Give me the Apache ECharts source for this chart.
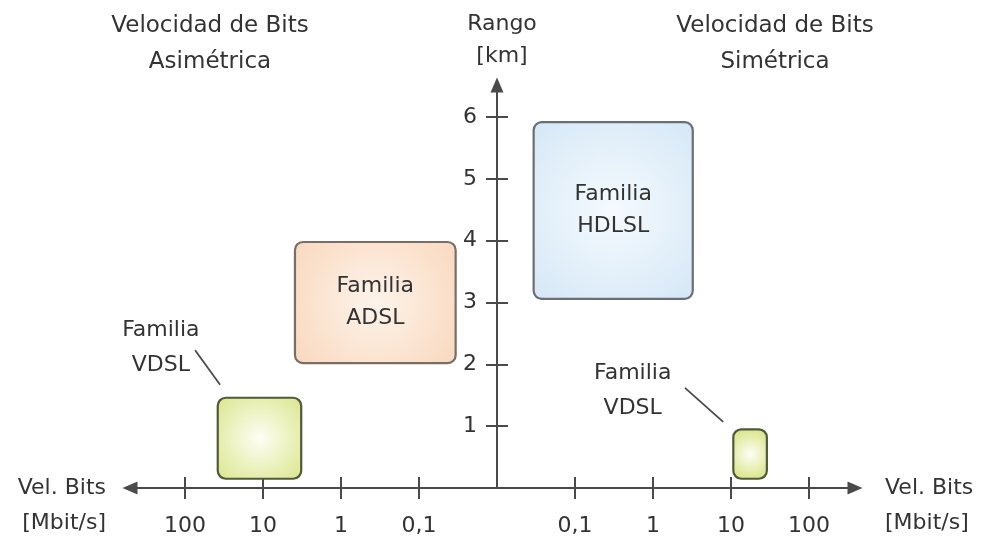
<!DOCTYPE html>
<html>
<head>
<meta charset="utf-8">
<script src="https://cdn.jsdelivr.net/npm/echarts@6/dist/echarts.min.js"></script>
<style>
  html, body { margin: 0; padding: 0; background: #fff; }
  #chart { width: 985px; height: 538px; }
</style>
</head>
<body>
<div id="chart"></div>
<script>
// decade labels, counted outward from the centre of the x axis
var tickLabels = ['0,1', '1', '10', '100'];
var tickPos = [-4, -3, -2, -1, 1, 2, 3, 4];
var rangeTicks = [1, 2, 3, 4, 5, 6];

// family boxes (x in decades from centre, y in km)
var families = ['ADSL', 'HDLSL', 'VDSL', 'VDSL'];
var xFrom = [-2.59, 0.47, -3.58, 3.03];
var xTo = [-0.53, 2.51, -2.51, 3.46];
var yFrom = [2.02, 3.06, 0.15, 0.15];
var yTo = [3.98, 5.92, 1.46, 0.95];
var labelInside = [true, true, false, false];

// callouts for the small VDSL boxes
var calloutText = ['Familia\nVDSL', 'Familia\nVDSL'];
var calloutX = [-4.31, 1.74];
var calloutY = [2.27, 1.57];
var leaderX0 = [-3.87, 2.41];
var leaderY0 = [2.23, 1.62];
var leaderX1 = [-3.55, 2.90];
var leaderY1 = [1.67, 1.07];

var FONT = '"DejaVu Sans", Verdana, sans-serif';
var TXT = '#333333';
var AXIS = '#4a4a4a';

var familyStyle = {
    ADSL:  { inner: '#fdf3ea', outer: '#f9d9bf', border: '#7a6d66' },
    HDLSL: { inner: '#f5fafe', outer: '#d2e6f5', border: '#6b6e72' },
    VDSL:  { inner: '#fdfef4', outer: '#d6e27e', border: '#4f5a3a' }
};

var boxData = families.map(function (f, i) {
    return [xFrom[i], xTo[i], yFrom[i], yTo[i], i];
});
var calloutData = calloutText.map(function (t, i) {
    return [calloutX[i], calloutY[i], leaderX0[i], leaderY0[i], leaderX1[i], leaderY1[i], i];
});

var chart = echarts.init(document.getElementById('chart'), null, { renderer: 'canvas' });

var xMin = -4.705, xMax = 4.59;
var gridLeft = 130, gridRight = 130;
// pixel distance from each grid edge to x = 0, so the y axis sits in the middle
var plotW = 985 - gridLeft - gridRight;
var zeroFromLeft = plotW * (0 - xMin) / (xMax - xMin);
var zeroFromRight = plotW - zeroFromLeft;

function tickLabel(v) {
    var k = Math.round(Math.abs(v));
    return k ? tickLabels[k - 1] : '';
}

// leading empty line drops the two-line name so its first line sits level with the axis
var xName = '\nVel. Bits\n[Mbit/s]';
var nameStyle = { fontFamily: FONT, fontSize: 22, color: TXT, lineHeight: 35 };

var option = {
    animation: false,
    backgroundColor: '#fff',
    grid: { left: gridLeft, right: gridRight, top: 85, bottom: 50, containLabel: false, outerBoundsMode: 'none' },
    graphic: [
        { type: 'text', x: 210, y: 8, style: { text: 'Velocidad de Bits\nAsimétrica', font: '23px ' + FONT, fill: TXT, align: 'center', lineHeight: 36 } },
        { type: 'text', x: 775, y: 8, style: { text: 'Velocidad de Bits\nSimétrica', font: '23px ' + FONT, fill: TXT, align: 'center', lineHeight: 36 } }
    ],
    xAxis: [
        {
            type: 'value', min: xMin, max: xMax, position: 'bottom',
            splitLine: { show: false },
            axisLine: { onZero: false, symbol: ['triangle', 'triangle'], symbolSize: [13, 15],
                lineStyle: { color: AXIS, width: 2 } },
            axisTick: { show: true, customValues: tickPos, length: 11, lineStyle: { color: AXIS, width: 2 } },
            axisLabel: { customValues: tickPos, formatter: tickLabel, margin: 27,
                fontFamily: FONT, fontSize: 22, color: TXT },
            name: xName, nameLocation: 'end', nameGap: 30,
            nameTextStyle: Object.assign({ align: 'left' }, nameStyle)
        },
        {
            type: 'value', min: xMin, max: xMax, position: 'top',
            offset: -(538 - 85 - 50),
            splitLine: { show: false },
            axisLine: { onZero: false, show: true, lineStyle: { color: 'rgba(0,0,0,0)', width: 0 } },
            axisTick: { show: true, customValues: tickPos, length: 11, lineStyle: { color: AXIS, width: 2 } },
            axisLabel: { show: false },
            name: xName, nameLocation: 'start', nameGap: 24,
            nameTextStyle: Object.assign({ align: 'right' }, nameStyle)
        }
    ],
    yAxis: [
        {
            type: 'value', min: 0, max: 6.52, position: 'left',
            offset: -zeroFromLeft,
            splitLine: { show: false },
            axisLine: { onZero: false, symbol: ['none', 'triangle'], symbolSize: [13, 15],
                lineStyle: { color: AXIS, width: 2 } },
            axisTick: { show: true, customValues: rangeTicks, length: 11, lineStyle: { color: AXIS, width: 2 } },
            axisLabel: { customValues: rangeTicks, margin: 20, fontFamily: FONT, fontSize: 22, color: TXT },
            name: 'Rango\n[km]', nameLocation: 'end', nameGap: 13,
            nameTextStyle: { fontFamily: FONT, fontSize: 22, color: TXT, lineHeight: 32, align: 'center',
                padding: [0, 0, 0, 10] }
        },
        {
            type: 'value', min: 0, max: 6.52, position: 'right',
            offset: -zeroFromRight,
            splitLine: { show: false },
            axisLine: { onZero: false, show: true, lineStyle: { color: 'rgba(0,0,0,0)', width: 0 } },
            axisTick: { show: true, customValues: rangeTicks, length: 11, lineStyle: { color: AXIS, width: 2 } },
            axisLabel: { show: false }
        }
    ],
    series: [
        {
            type: 'custom',
            name: 'familias',
            xAxisIndex: 0, yAxisIndex: 0,
            encode: { x: [0, 1], y: [2, 3] },
            data: boxData,
            renderItem: function (params, api) {
                var i = api.value(4);
                var tl = api.coord([api.value(0), api.value(3)]);
                var br = api.coord([api.value(1), api.value(2)]);
                var st = familyStyle[families[i]];
                var el = {
                    type: 'rect',
                    shape: { x: tl[0], y: tl[1], width: br[0] - tl[0], height: br[1] - tl[1], r: 8 },
                    style: {
                        fill: { type: 'radial', x: 0.5, y: 0.5, r: 0.8,
                            colorStops: [{ offset: 0, color: st.inner }, { offset: 1, color: st.outer }] },
                        stroke: st.border, lineWidth: 2.2
                    }
                };
                if (labelInside[i]) {
                    el.textContent = {
                        type: 'text',
                        style: { text: 'Familia\n' + families[i], font: '22px ' + FONT, fill: TXT,
                            align: 'center', verticalAlign: 'middle', lineHeight: 32 }
                    };
                    el.textConfig = { position: 'inside' };
                }
                return el;
            }
        },
        {
            type: 'custom',
            name: 'callouts',
            xAxisIndex: 0, yAxisIndex: 0,
            data: calloutData,
            renderItem: function (params, api) {
                var i = api.value(6);
                var t = api.coord([api.value(0), api.value(1)]);
                var a = api.coord([api.value(2), api.value(3)]);
                var b = api.coord([api.value(4), api.value(5)]);
                return {
                    type: 'group',
                    children: [
                        { type: 'line', shape: { x1: a[0], y1: a[1], x2: b[0], y2: b[1] },
                          style: { stroke: AXIS, lineWidth: 1.8 } },
                        { type: 'text', x: t[0], y: t[1],
                          style: { text: calloutText[i], font: '22px ' + FONT, fill: TXT,
                              align: 'center', verticalAlign: 'middle', lineHeight: 35 } }
                    ]
                };
            }
        }
    ]
};

chart.setOption(option);
</script>
</body>
</html>
